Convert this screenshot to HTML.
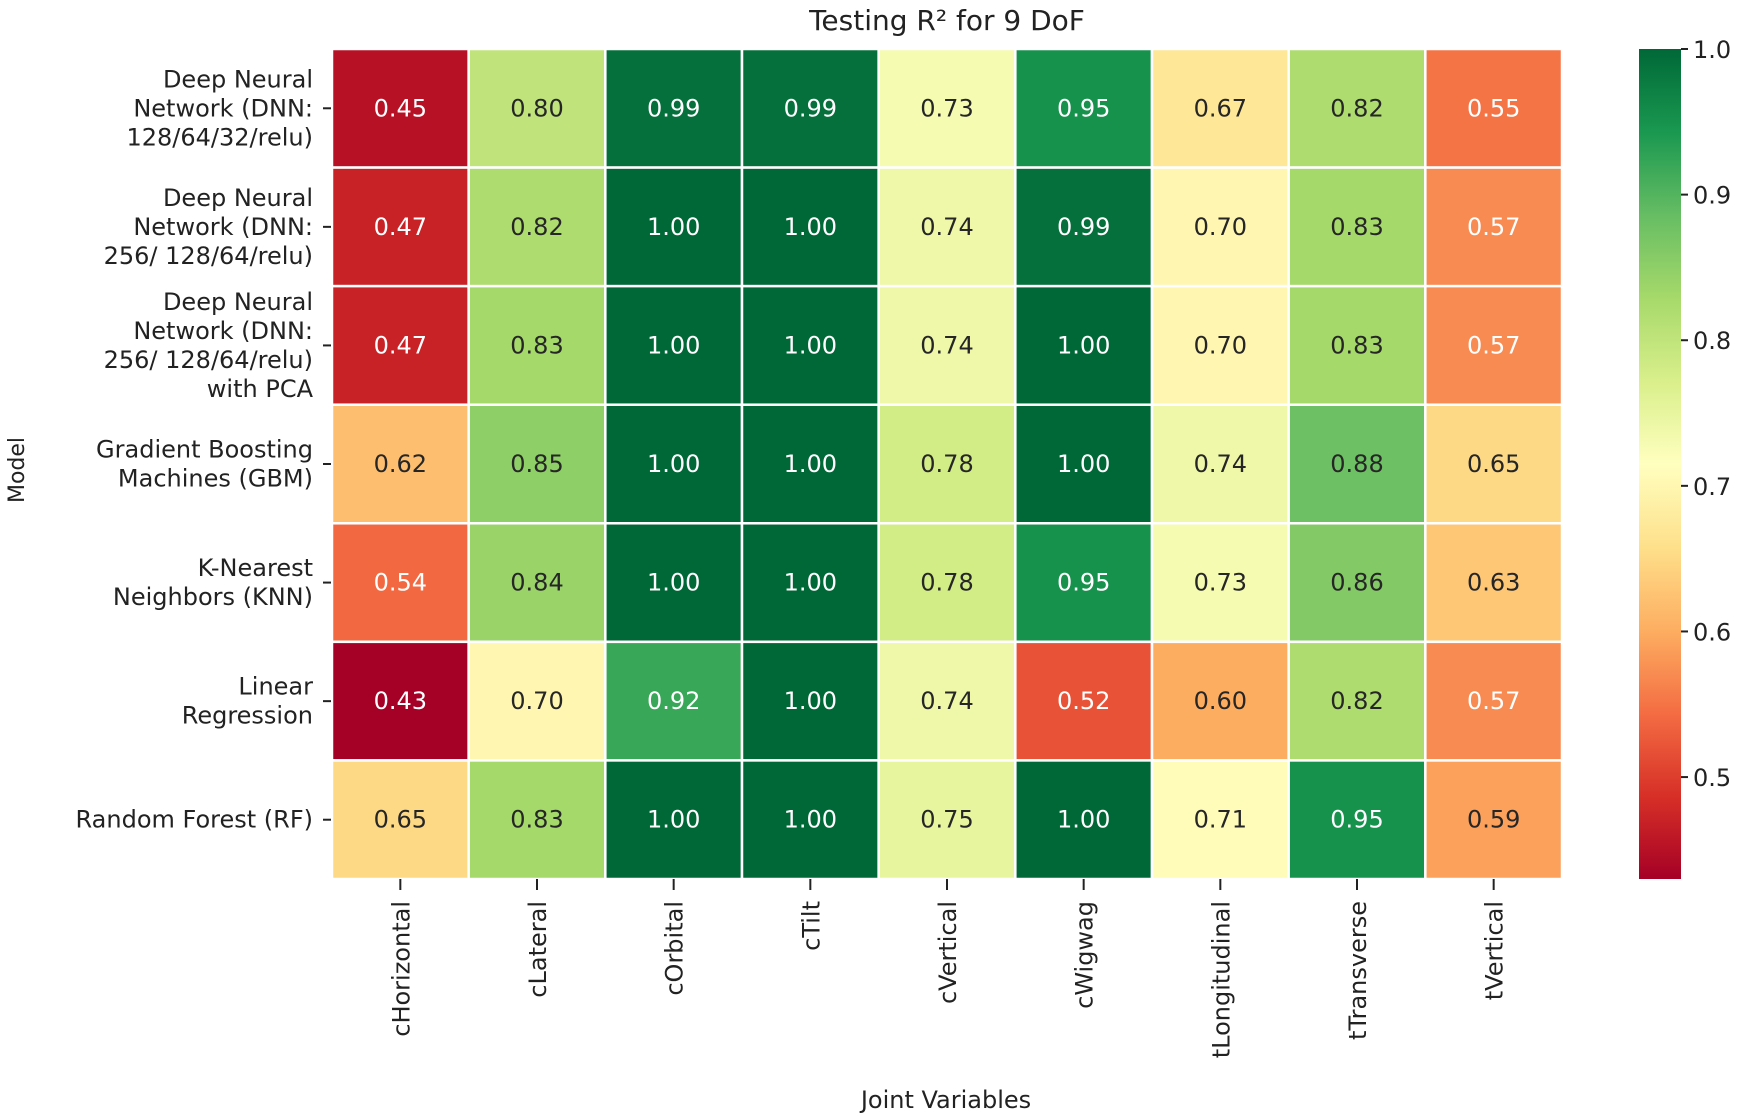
<!DOCTYPE html>
<html><head><meta charset="utf-8"><style>
html,body{margin:0;padding:0;background:#fff;}
svg{display:block;font-family:"DejaVu Sans","Liberation Sans",sans-serif;}
</style></head><body>
<svg id="chart" width="1748" height="1118" viewBox="0 0 1748 1118" xmlns="http://www.w3.org/2000/svg">
<defs><linearGradient id="cbgrad" x1="0" y1="1" x2="0" y2="0"></linearGradient></defs>
<text x="947" y="30" font-size="28" text-anchor="middle" fill="#222">Testing  R² for 9 DoF</text>
<text transform="translate(24,470) rotate(-90)" font-size="22" text-anchor="middle" fill="#222">Model</text>
<text x="946" y="1108" font-size="24" text-anchor="middle" fill="#222">Joint Variables</text>
<g id="cells"></g><g id="ylabels"></g><g id="xlabels"></g><g id="cbar"></g>
</svg>
<script>
const columns = ["cHorizontal","cLateral","cOrbital","cTilt","cVertical","cWigwag","tLongitudinal","tTransverse","tVertical"];
const rowLabels = [
 ["Deep Neural","Network (DNN:","128/64/32/relu)"],
 ["Deep Neural","Network (DNN:","256/ 128/64/relu)"],
 ["Deep Neural","Network (DNN:","256/ 128/64/relu)","with PCA"],
 ["Gradient Boosting","Machines (GBM)"],
 ["K-Nearest","Neighbors (KNN)"],
 ["Linear","Regression"],
 ["Random Forest (RF)"]
];
const rowDNN1 = [0.45,0.80,0.99,0.99,0.73,0.95,0.67,0.82,0.55];
const rowDNN2 = [0.47,0.82,1.00,1.00,0.74,0.99,0.70,0.83,0.57];
const rowDNNPCA = [0.47,0.83,1.00,1.00,0.74,1.00,0.70,0.83,0.57];
const rowGBM = [0.62,0.85,1.00,1.00,0.78,1.00,0.74,0.88,0.65];
const rowKNN = [0.54,0.84,1.00,1.00,0.78,0.95,0.73,0.86,0.63];
const rowLR = [0.43,0.70,0.92,1.00,0.74,0.52,0.60,0.82,0.57];
const rowRF = [0.65,0.83,1.00,1.00,0.75,1.00,0.71,0.95,0.59];
const values = [rowDNN1,rowDNN2,rowDNNPCA,rowGBM,rowKNN,rowLR,rowRF];
const cbTicks = [0.5,0.6,0.7,0.8,0.9,1.0];
const vmin = 0.43, vmax = 1.0;

const NS="http://www.w3.org/2000/svg";
const X0=332,X1=1562,Y0=49,Y1=879;
const cw=(X1-X0)/columns.length, ch=(Y1-Y0)/values.length;
const xPos=i=>X0+i*cw, yPos=j=>Y0+j*ch;
const stops=["#a50026","#d73027","#f46d43","#fdae61","#fee08b","#ffffbf","#d9ef8b","#a6d96a","#66bd63","#1a9850","#006837"];
function hex(h){return [1,3,5].map(k=>parseInt(h.substr(k,2),16));}
function cmap(v){let t=Math.max(0,Math.min(1,(v-vmin)/(vmax-vmin)))*(stops.length-1);let i=Math.min(Math.floor(t),stops.length-2),f=t-i;const a=hex(stops[i]),b=hex(stops[i+1]);return a.map((c,k)=>Math.round(c+(b[k]-c)*f));}
function mk(tag,attrs,parent){const e=document.createElementNS(NS,tag);for(const k in attrs)e.setAttribute(k,attrs[k]);parent.appendChild(e);return e;}
const gC=document.getElementById('cells');
values.forEach((row,j)=>row.forEach((v,i)=>{
 const c=cmap(v);
 const r=mk('rect',{x:xPos(i),y:yPos(j),width:cw,height:ch,fill:`rgb(${c})`,stroke:'#fff','stroke-width':2.5},gC);
 
 
 const light=(v<0.58||v>=0.9);
 const t=mk('text',{x:xPos(i)+cw/2,y:yPos(j)+ch/2+8,'font-size':24,'text-anchor':'middle',fill:light?'#ffffff':'#262626'},gC);
 t.textContent=v.toFixed(2);
 
 
}));
const gY=document.getElementById('ylabels');
rowLabels.forEach((lines,j)=>{
 const cy=yPos(j)+ch/2;
 mk('line',{x1:323,x2:331,y1:cy,y2:cy,stroke:'#222','stroke-width':2},gY);
 const t=mk('text',{x:313,'font-size':24,'text-anchor':'end',fill:'#222'},gY);
 
 
 const lh=29, start=cy-(lines.length-1)*lh/2+8;
 lines.forEach((l,k)=>{const s=mk('tspan',{x:313,y:start+k*lh},t);s.textContent=l;});
});
const gX=document.getElementById('xlabels');
columns.forEach((c,i)=>{
 const cx=xPos(i)+cw/2;
 mk('line',{x1:cx,x2:cx,y1:Y1,y2:Y1+11,stroke:'#222','stroke-width':2},gX);
 const t=mk('text',{transform:`translate(${cx+9},${Y1+22}) rotate(-90)`,'font-size':24,'text-anchor':'end',fill:'#222'},gX);
 t.textContent=c;
 
 
});
const grad=document.getElementById('cbgrad');
stops.forEach((s,k)=>mk('stop',{offset:k/(stops.length-1),'stop-color':s},grad));
const gB=document.getElementById('cbar');
const CX=1639,CW=42;
const cbY=v=>Y1-(v-vmin)/(vmax-vmin)*(Y1-Y0);
const cb=mk('rect',{x:CX,y:Y0,width:CW,height:Y1-Y0,fill:'url(#cbgrad)'},gB);


cbTicks.forEach(v=>{
 const y=cbY(v);
 mk('line',{x1:CX+CW,x2:CX+CW+7,y1:y,y2:y,stroke:'#222','stroke-width':2},gB);
 const t=mk('text',{x:CX+CW+12,y:y+9,'font-size':24,fill:'#222'},gB);
 t.textContent=v.toFixed(1);
 
 
});
</script>
</body></html>
